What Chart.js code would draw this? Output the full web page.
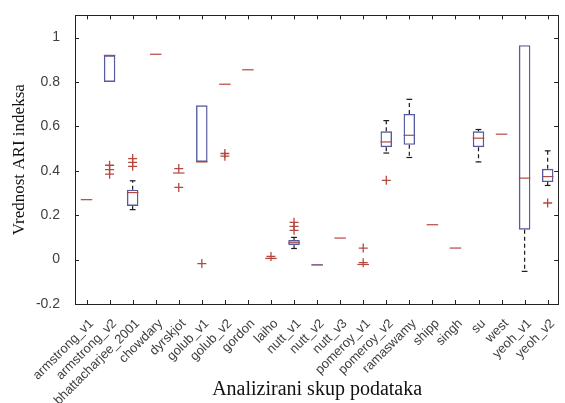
<!DOCTYPE html>
<html>
<head>
<meta charset="utf-8">
<script src="https://cdn.jsdelivr.net/npm/chart.js@4"></script>
<style>
html,body{margin:0;padding:0;background:#fff;}
#wrap{width:565px;height:403px;}
</style>
</head>
<body>
<div id="wrap"><canvas id="c" width="565" height="403"></canvas></div>
<script>
const categories = ['armstrong_v1','armstrong_v2','bhattacharjee_2001','chowdary','dyrskjot','golub_v1','golub_v2','gordon','laiho','nutt_v1','nutt_v2','nutt_v3','pomeroy_v1','pomeroy_v2','ramaswamy','shipp','singh','su','west','yeoh_v1','yeoh_v2'];
const q1 =        [null, 0.80, 0.242, null, null, 0.44, null, null, null, 0.065, -0.027, null, null, 0.506, 0.517, null, null, 0.506, null, 0.135, 0.349];
const q3 =        [null, 0.92, 0.315, null, null, 0.695, null, null, null, 0.088, -0.021, null, null, 0.578, 0.656, null, null, 0.578, null, 0.966, 0.409];
const medians =   [0.27, 0.92, 0.302, 0.925, 0.39, 0.44, 0.79, 0.855, 0.005, 0.076, -0.024, 0.097, -0.022, 0.53, 0.56, 0.157, 0.052, 0.547, 0.565, 0.367, 0.374];
const whiskerLow =  [null, null, 0.225, null, null, null, null, null, null, 0.05, null, null, null, 0.48, 0.46, null, null, 0.44, null, -0.053, 0.334];
const whiskerHigh = [null, null, 0.355, null, null, null, null, null, null, 0.10, null, null, null, 0.626, 0.722, null, null, 0.586, null, null, 0.49];
const outliers = [[], [0.425,0.405,0.385], [0.455,0.438,0.42], [], [0.41,0.325], [-0.018], [0.478,0.466], [], [0.014], [0.168,0.15,0.132], [], [], [0.052,-0.014], [0.357], [], [], [], [], [], [], [0.255]];
const yTicks = [-0.2, 0, 0.2, 0.4, 0.6, 0.8, 1];

const BOX_COLOR = '#575a9e';
const MED_COLOR = '#b5483f';
const WHISK_COLOR = '#1a1a1a';

const outlierPoints = [];
outliers.forEach((arr, i) => arr.forEach(v => outlierPoints.push({x: categories[i], y: v})));

const boxPlugin = {
  id: 'boxParts',
  beforeDatasetsDraw(chart) {
    const x = chart.scales.x, y = chart.scales.y, ctx = chart.ctx;
    const half = (x.getPixelForValue(1) - x.getPixelForValue(0)) * 0.25;
    ctx.save();
    ctx.strokeStyle = MED_COLOR;
    ctx.lineWidth = 1.2;
    medians.forEach((m, i) => {
      if (m == null) return;
      const px = x.getPixelForValue(i), py = y.getPixelForValue(m);
      ctx.beginPath(); ctx.moveTo(px - half, py); ctx.lineTo(px + half, py); ctx.stroke();
    });
    ctx.restore();
  },
  afterDatasetsDraw(chart) {
    const x = chart.scales.x, y = chart.scales.y, ctx = chart.ctx;
    const half = (x.getPixelForValue(1) - x.getPixelForValue(0)) * 0.25;
    const cap = half * 0.5;
    ctx.save();
    ctx.strokeStyle = WHISK_COLOR;
    ctx.lineWidth = 1.2;
    categories.forEach((c, i) => {
      const px = x.getPixelForValue(i);
      if (whiskerLow[i] != null && q1[i] != null) {
        const a = y.getPixelForValue(q1[i]), b = y.getPixelForValue(whiskerLow[i]);
        ctx.setLineDash([4, 3]);
        ctx.beginPath(); ctx.moveTo(px, a); ctx.lineTo(px, b); ctx.stroke();
        ctx.setLineDash([]);
        ctx.beginPath(); ctx.moveTo(px - cap, b); ctx.lineTo(px + cap, b); ctx.stroke();
      }
      if (whiskerHigh[i] != null && q3[i] != null) {
        const a = y.getPixelForValue(q3[i]), b = y.getPixelForValue(whiskerHigh[i]);
        ctx.setLineDash([4, 3]);
        ctx.beginPath(); ctx.moveTo(px, a); ctx.lineTo(px, b); ctx.stroke();
        ctx.setLineDash([]);
        ctx.beginPath(); ctx.moveTo(px - cap, b); ctx.lineTo(px + cap, b); ctx.stroke();
      }
    });
    ctx.restore();
  },
  afterDraw(chart) {
    const {left, right, top, bottom} = chart.chartArea;
    const x = chart.scales.x, y = chart.scales.y, ctx = chart.ctx;
    ctx.save();
    ctx.strokeStyle = '#222';
    ctx.lineWidth = 1;
    ctx.strokeRect(Math.round(left) + 0.5, Math.round(top) + 0.5, Math.round(right - left) - 1, Math.round(bottom - top));
    const tl = 4;
    y.ticks.forEach(t => {
      const py = Math.round(y.getPixelForValue(t.value)) + 0.5;
      ctx.beginPath(); ctx.moveTo(left, py); ctx.lineTo(left + tl, py); ctx.stroke();
      ctx.beginPath(); ctx.moveTo(right - 1, py); ctx.lineTo(right - 1 - tl, py); ctx.stroke();
    });
    categories.forEach((c, i) => {
      const px = Math.round(x.getPixelForValue(i)) + 0.5;
      ctx.beginPath(); ctx.moveTo(px, bottom); ctx.lineTo(px, bottom - tl); ctx.stroke();
      ctx.beginPath(); ctx.moveTo(px, top); ctx.lineTo(px, top + tl); ctx.stroke();
    });
    ctx.restore();
  }
};

new Chart(document.getElementById('c'), {
  type: 'bar',
  data: {
    labels: categories,
    datasets: [
      {
        type: 'bar',
        data: categories.map((c, i) => q1[i] != null ? [q1[i], q3[i]] : null),
        backgroundColor: 'rgba(0,0,0,0)',
        borderColor: BOX_COLOR,
        borderWidth: 1.4,
        borderSkipped: false,
        barPercentage: 0.5,
        categoryPercentage: 1.0
      },
      {
        type: 'line',
        data: outlierPoints,
        showLine: false,
        pointStyle: 'cross',
        pointRadius: 4.5,
        pointBorderColor: MED_COLOR,
        pointBorderWidth: 1.3,
        pointBackgroundColor: MED_COLOR
      }
    ]
  },
  options: {
    responsive: false,
    animation: false,
    devicePixelRatio: 1,
    layout: {padding: {top: 15, right: 1, left: 0, bottom: 0}},
    plugins: {legend: {display: false}, tooltip: {enabled: false}},
    scales: {
      x: {
        type: 'category',
        offset: true,
        grid: {display: false},
        border: {display: false},
        ticks: {
          autoSkip: false, maxRotation: 45, minRotation: 45, padding: 4, labelOffset: 5,
          color: '#404040', font: {family: 'Liberation Sans, Arial, sans-serif', size: 13}
        },
        title: {
          display: true, text: 'Analizirani skup podataka',
          color: '#111', font: {family: 'Liberation Serif, Times New Roman, serif', size: 20},
          padding: {top: 0, bottom: 1}
        },
        afterFit(s) { s.height = 99; }
      },
      y: {
        type: 'linear',
        min: -0.2, max: 1.1,
        grid: {display: false},
        border: {display: false},
        afterBuildTicks(s) { s.ticks = yTicks.map(v => ({value: v})); },
        ticks: {
          padding: 7,
          color: '#404040', font: {family: 'Liberation Sans, Arial, sans-serif', size: 14},
          callback: v => String(Math.round(v * 10) / 10)
        },
        title: {
          display: true, text: 'Vrednost ARI indeksa',
          color: '#111', font: {family: 'Liberation Serif, Times New Roman, serif', size: 17},
          padding: {top: 9, bottom: 0}
        },
        afterFit(s) { s.width = 75; }
      }
    }
  },
  plugins: [boxPlugin]
});
</script>
</body>
</html>
